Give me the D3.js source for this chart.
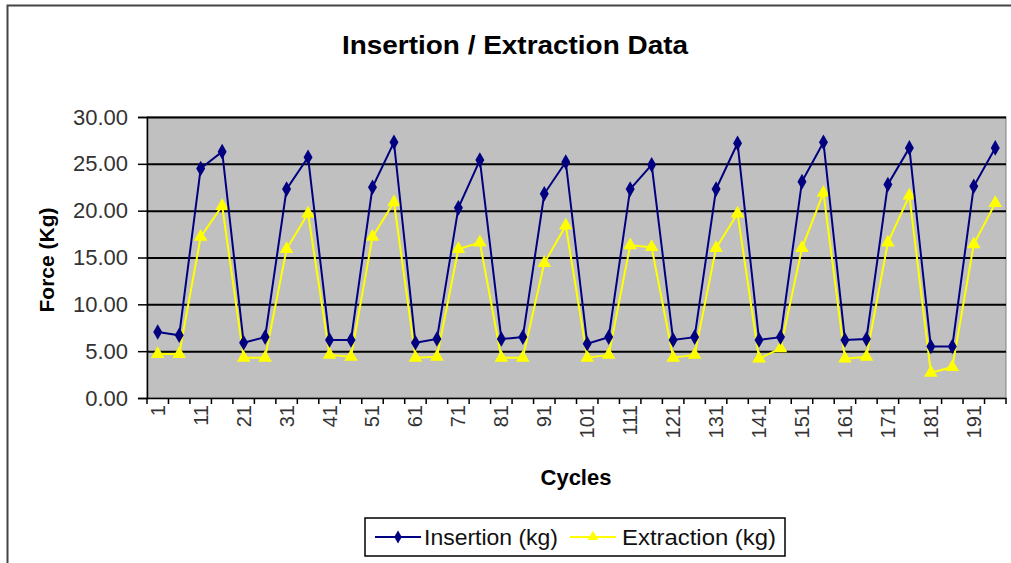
<!DOCTYPE html>
<html>
<head>
<meta charset="utf-8">
<script src="https://cdn.jsdelivr.net/npm/d3@7"></script>
<style>
  body { margin: 0; background: #fff; }
  svg { display: block; font-family: "Liberation Sans", Arial, sans-serif; }
</style>
</head>
<body>
<div id="chart"></div>
<script>
// cycles measured every 5
const cycles = [1, 6, 11, 16, 21, 26, 31, 36, 41, 46, 51, 56, 61, 66, 71, 76, 81, 86, 91, 96,
  101, 106, 111, 116, 121, 126, 131, 136, 141, 146, 151, 156, 161, 166, 171, 176, 181, 186, 191, 196];

const insertion = [7.05, 6.7, 24.5, 26.3, 5.9, 6.5, 22.3, 25.7, 6.2, 6.2, 22.5, 27.3, 5.9, 6.3, 20.3, 25.4, 6.3, 6.5, 21.8, 25.2,
  5.8, 6.5, 22.3, 24.9, 6.2, 6.5, 22.3, 27.2, 6.2, 6.5, 23.1, 27.3, 6.2, 6.3, 22.8, 26.7, 5.5, 5.5, 22.6, 26.7];

const extraction = [4.7, 4.7, 17.2, 20.5, 4.3, 4.3, 15.9, 19.7, 4.6, 4.4, 17.2, 20.9, 4.3, 4.4, 15.9, 16.6, 4.3, 4.3, 14.4, 18.4,
  4.3, 4.6, 16.3, 16.1, 4.3, 4.6, 16.0, 19.7, 4.2, 5.3, 16.0, 21.9, 4.2, 4.4, 16.6, 21.6, 2.7, 3.3, 16.4, 20.8];

const yTicks = [0, 5, 10, 15, 20, 25, 30];

const W = 1011, H = 563;
const plotL = 147, plotR = 1006, plotT = 117, plotB = 398;

const svg = d3.select("#chart").append("svg")
  .attr("width", W)
  .attr("height", H);

// outer chart border (only top and left visible)
svg.append("rect")
  .attr("x", 7.5).attr("y", 5.5)
  .attr("width", 1030).attr("height", 580)
  .attr("fill", "#fff")
  .attr("stroke", "#444")
  .attr("stroke-width", 2);

const x = d3.scaleBand()
  .domain(cycles)
  .range([plotL, plotR])
  .padding(0);

const y = d3.scaleLinear()
  .domain([0, 30])
  .range([plotB, plotT]);

// plot area
svg.append("rect")
  .attr("x", plotL).attr("y", plotT)
  .attr("width", plotR - plotL).attr("height", plotB - plotT)
  .attr("fill", "#c0c0c0")
  .attr("stroke", "#808080");

// grid lines
svg.append("g")
  .attr("transform", `translate(${plotL},0)`)
  .call(d3.axisLeft(y).tickValues(yTicks.slice(1)).tickSize(-(plotR - plotL)).tickFormat(""))
  .call(g => g.select(".domain").remove())
  .selectAll("line")
  .attr("stroke", "#000")
  .attr("stroke-width", 2);

// y axis
const yAxis = svg.append("g")
  .attr("transform", `translate(${plotL},0)`)
  .call(d3.axisLeft(y).tickValues(yTicks).tickSize(9).tickPadding(10).tickFormat(d3.format(".2f")));
yAxis.select(".domain").attr("stroke", "#000").attr("stroke-width", 1.5);
yAxis.selectAll("line").attr("stroke", "#000").attr("stroke-width", 1.5);
yAxis.selectAll("text")
  .attr("font-size", 22)
  .attr("fill", "#333")
  .attr("font-family", "Liberation Sans, Arial, sans-serif");

// x axis: labels on every other category, tick marks between categories
const xAxis = svg.append("g")
  .attr("transform", `translate(0,${plotB})`)
  .call(d3.axisBottom(x).tickSize(0).tickPadding(0)
    .tickFormat((d, i) => i % 2 === 0 ? d : ""));
xAxis.select(".domain").attr("stroke", "#000").attr("stroke-width", 1.5);
xAxis.selectAll("text")
  .attr("font-size", 20)
  .attr("fill", "#333")
  .attr("font-family", "Liberation Sans, Arial, sans-serif")
  .attr("text-anchor", "end")
  .attr("y", 0)
  .attr("dy", "0.35em")
  .attr("transform", "translate(0,7) rotate(-90)");

svg.append("g")
  .selectAll("line")
  .data(d3.range(cycles.length + 1))
  .join("line")
  .attr("x1", i => plotL + i * x.step())
  .attr("x2", i => plotL + i * x.step())
  .attr("y1", plotB)
  .attr("y2", plotB + 6)
  .attr("stroke", "#000")
  .attr("stroke-width", 1.5);

// series
const cx = d => x(d) + x.bandwidth() / 2;

function drawSeries(values, color, symbolType, size) {
  const line = d3.line()
    .x((v, i) => cx(cycles[i]))
    .y(v => y(v));

  svg.append("path")
    .datum(values)
    .attr("fill", "none")
    .attr("stroke", color)
    .attr("stroke-width", 2)
    .attr("d", line);

  svg.append("g")
    .selectAll("path")
    .data(values)
    .join("path")
    .attr("transform", (v, i) => `translate(${cx(cycles[i])},${y(v)})`)
    .attr("d", d3.symbol().type(symbolType).size(size))
    .attr("fill", color);
}

drawSeries(extraction, "#ffff00", d3.symbolTriangle, 80);
drawSeries(insertion, "#000080", d3.symbolDiamond, 70);

// title
svg.append("text")
  .attr("x", 515).attr("y", 54)
  .attr("text-anchor", "middle")
  .attr("font-size", 26)
  .attr("font-weight", "bold")
  .attr("textLength", 346)
  .attr("lengthAdjust", "spacingAndGlyphs")
  .text("Insertion / Extraction Data");

// axis titles
svg.append("text")
  .attr("transform", "translate(54,260) rotate(-90)")
  .attr("text-anchor", "middle")
  .attr("font-size", 21)
  .attr("font-weight", "bold")
  .text("Force (Kg)");

svg.append("text")
  .attr("x", 576).attr("y", 485)
  .attr("text-anchor", "middle")
  .attr("font-size", 22)
  .attr("font-weight", "bold")
  .text("Cycles");

// legend
const legend = svg.append("g");
legend.append("rect")
  .attr("x", 365).attr("y", 518)
  .attr("width", 420).attr("height", 38)
  .attr("fill", "#fff")
  .attr("stroke", "#000")
  .attr("stroke-width", 1.5);

const legendItems = [
  { name: "Insertion (kg)", color: "#000080", sym: d3.symbolDiamond, x0: 375, tx: 424, tw: 134 },
  { name: "Extraction (kg)", color: "#ffff00", sym: d3.symbolTriangle, x0: 570, tx: 622, tw: 154 }
];

legendItems.forEach(it => {
  legend.append("line")
    .attr("x1", it.x0).attr("x2", it.x0 + 46)
    .attr("y1", 537).attr("y2", 537)
    .attr("stroke", it.color)
    .attr("stroke-width", 2);
  legend.append("path")
    .attr("transform", `translate(${it.x0 + 23},537)`)
    .attr("d", d3.symbol().type(it.sym).size(50))
    .attr("fill", it.color);
  legend.append("text")
    .attr("x", it.tx).attr("y", 545)
    .attr("font-size", 22)
    .attr("fill", "#111")
    .attr("textLength", it.tw)
    .attr("lengthAdjust", "spacingAndGlyphs")
    .text(it.name);
});
</script>
</body>
</html>
